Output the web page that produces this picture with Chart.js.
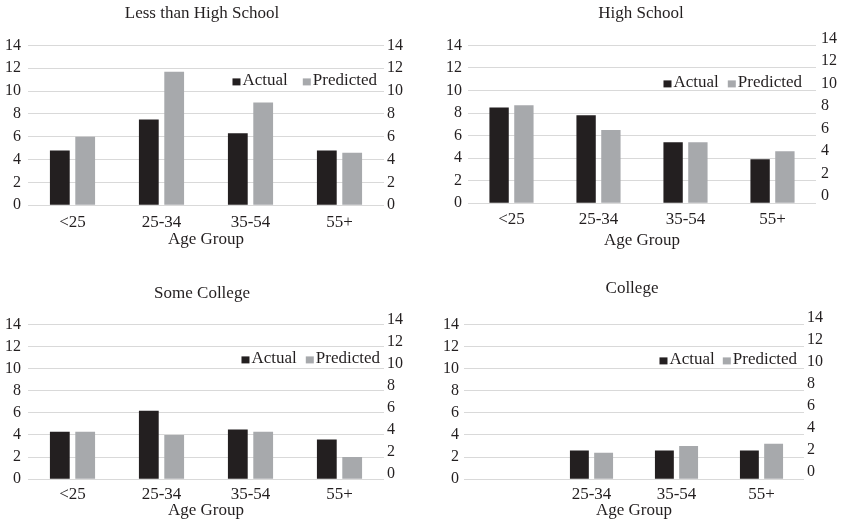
<!DOCTYPE html>
<html>
<head>
<meta charset="utf-8">
<script src="https://cdn.jsdelivr.net/npm/chart.js@4.4.1/dist/chart.umd.min.js"></script>
<style>
  body { margin: 0; background: #fff; }
  canvas { position: absolute; }
</style>
</head>
<body>
<canvas id="c1" width="420" height="260" style="left:0;top:0"></canvas>
<canvas id="c2" width="421" height="260" style="left:420px;top:0"></canvas>
<canvas id="c3" width="420" height="263" style="left:0;top:260px"></canvas>
<canvas id="c4" width="421" height="263" style="left:420px;top:260px"></canvas>
<script>
var ageGroups = ['<25', '25-34', '35-54', '55+'];
var collegeAgeGroups = ['', '25-34', '35-54', '55+'];
var seriesNames = ['Actual', 'Predicted'];
var axisTitle = 'Age Group';

var lessHsActual = [4.8, 7.5, 6.3, 4.8];
var lessHsPredicted = [6.0, 11.7, 9.0, 4.6];
var hsActual = [8.5, 7.8, 5.4, 3.9];
var hsPredicted = [8.7, 6.5, 5.4, 4.6];
var someCollegeActual = [4.3, 6.2, 4.5, 3.6];
var someCollegePredicted = [4.3, 4.0, 4.3, 2.0];
var collegeActual = [null, 2.6, 2.6, 2.6];
var collegePredicted = [null, 2.4, 3.0, 3.2];

var FONT = '"Liberation Serif", "Times New Roman", serif';
var INK = '#231f20';
var GRAY = '#a7a9ac';

// little legend: square box + label, anchored at the right of the plot area
var boxLegend = {
  id: 'boxLegend',
  afterDraw: function(chart, args, opts) {
    var ctx = chart.ctx, area = chart.chartArea;
    var y = area.top + opts.dy;
    var x = area.right + opts.dx;
    ctx.save();
    ctx.font = '17px ' + FONT;
    ctx.textBaseline = 'alphabetic';
    ctx.textAlign = 'left';
    var sets = chart.data.datasets;
    for (var i = sets.length - 1; i >= 0; i--) {
      var w = ctx.measureText(sets[i].label).width;
      x -= w;
      ctx.fillStyle = INK;
      ctx.fillText(sets[i].label, x, y);
      x -= 2 + 8;
      ctx.fillStyle = sets[i].backgroundColor;
      ctx.fillRect(x, y - 7, 8, 7);
      x -= opts.gap;
    }
    ctx.restore();
  }
};

function makeChart(id, title, cats, actual, predicted, p) {
  var ctx = document.getElementById(id).getContext('2d');
  return new Chart(ctx, {
    type: 'bar',
    data: {
      labels: cats,
      datasets: [
        { label: seriesNames[0], data: actual, backgroundColor: INK,
          categoryPercentage: 0.57, barPercentage: 0.78 },
        { label: seriesNames[1], data: predicted, backgroundColor: GRAY,
          categoryPercentage: 0.57, barPercentage: 0.78 }
      ]
    },
    options: {
      responsive: false,
      animation: false,
      devicePixelRatio: 1,
      layout: { padding: p.pad },
      plugins: {
        legend: { display: false },
        tooltip: { enabled: false },
        title: {
          display: true,
          text: title,
          color: INK,
          font: { family: FONT, size: 17, weight: 'normal' },
          padding: { top: 0, bottom: p.titleGap }
        },
        boxLegend: p.legend
      },
      scales: {
        x: {
          grid: { display: false, drawTicks: false },
          border: { display: false },
          ticks: { color: INK, padding: p.xPad, font: { family: FONT, size: 17 } },
          title: {
            display: true,
            text: axisTitle,
            color: INK,
            font: { family: FONT, size: 17 },
            padding: { top: p.xTitleGap, bottom: 0 }
          }
        },
        y: {
          min: 0,
          max: 14,
          ticks: { stepSize: 2, autoSkip: false, color: INK, padding: p.yPad,
                   font: { family: FONT, size: 16 } },
          grid: { color: '#d9d9d9', drawTicks: false },
          border: { display: false }
        },
        y2: {
          position: 'right',
          min: 0,
          max: 14,
          ticks: { stepSize: 2, autoSkip: false, color: INK, padding: p.y2Pad, labelOffset: p.y2Off,
                   font: { family: FONT, size: 16 } },
          grid: { display: false, drawTicks: false },
          border: { display: false }
        }
      }
    },
    plugins: [boxLegend]
  });
}

makeChart('c1', 'Less than High School', ageGroups, lessHsActual, lessHsPredicted, {
  pad: { left: -2, right: 14, top: 3, bottom: 10 }, titleGap: 22,
  yPad: 7, y2Pad: 3, y2Off: 0, xPad: 7, xTitleGap: -10,
  legend: { dx: -7, dy: 40, gap: 15 }
});
makeChart('c2', 'High School', ageGroups, hsActual, hsPredicted, {
  pad: { left: 20, right: -1, top: 3, bottom: 9 }, titleGap: 22,
  yPad: 6, y2Pad: 5, y2Off: -7, xPad: 6, xTitleGap: -5,
  legend: { dx: -14, dy: 42, gap: 9 }
});
makeChart('c3', 'Some College', ageGroups, someCollegeActual, someCollegePredicted, {
  pad: { left: -2, right: 14, top: 23, bottom: 2 }, titleGap: 21,
  yPad: 7, y2Pad: 3, y2Off: -5, xPad: 5, xTitleGap: -9,
  legend: { dx: -4, dy: 39, gap: 9 }
});
makeChart('c4', 'College', collegeAgeGroups, collegeActual, collegePredicted, {
  pad: { left: 18, right: 15, top: 18, bottom: 2 }, titleGap: 26,
  yPad: 5, y2Pad: 3, y2Off: -7, xPad: 5, xTitleGap: -9,
  legend: { dx: -7, dy: 40, gap: 8 }
});
</script>
</body>
</html>
